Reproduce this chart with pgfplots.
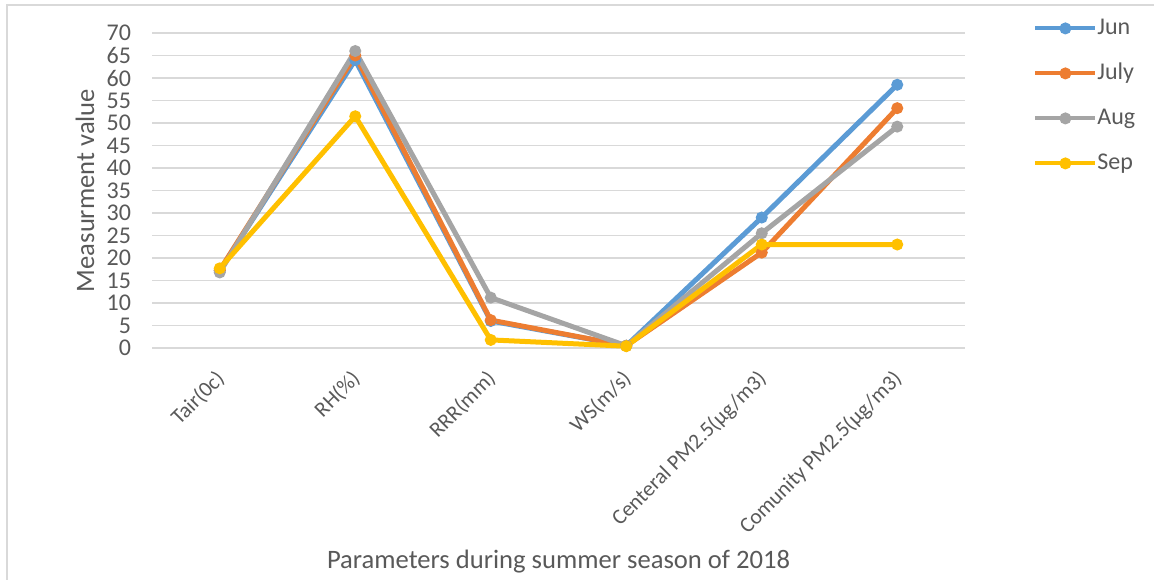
\documentclass[border=0pt]{standalone}
\usepackage{fontspec}
\setmainfont{Carlito}
\usepackage{pgfplots}
\pgfplotsset{compat=1.18}
\definecolor{cJun}{HTML}{5B9BD5}
\definecolor{cJul}{HTML}{ED7D31}
\definecolor{cAug}{HTML}{A5A5A5}
\definecolor{cSep}{HTML}{FFC000}
\definecolor{gridc}{HTML}{D9D9D9}
\definecolor{labc}{HTML}{595959}
\begin{document}
\begin{tikzpicture}
\useasboundingbox (-76pt,-115.5pt) rectangle (501pt,174pt);
% chart area border (cropped at right and bottom)
\draw[color=gridc, line width=1pt] (-72.5pt,-116pt) -- (-72.5pt,171.5pt) -- (502pt,171.5pt);
\begin{axis}[
    at={(0pt,0pt)}, anchor=south west,
    scale only axis, width=406.5pt, height=157.5pt,
    xmin=-0.5, xmax=5.5, ymin=0, ymax=70,
    ytick={0,5,...,70}, xtick={0,...,5},
    xticklabels={Tair(0c),RH(\%),RRR(mm),WS(m/s),Centeral PM2.5(µg/m3),Comunity PM2.5(µg/m3)},
    axis line style={draw=none}, major tick length=0pt,
    ymajorgrids, grid style={color=gridc, line width=0.75pt},
    tick label style={font=\fontsize{12}{14}\selectfont, color=labc},
    /pgf/number format/assume math mode=true,
    xticklabel style={font=\fontsize{10.8}{13}\selectfont, xshift=3.1pt, yshift=-11.3pt, rotate=45, anchor=east},
    yticklabel style={anchor=east, xshift=-7pt},
    xlabel={Parameters during summer season of 2018},
    ylabel={Measurment value},
    every axis x label/.style={at={(axis description cs:0.5,0)}, anchor=center, yshift=-107pt,
        font=\fontsize{13.3}{15}\selectfont, text=labc},
    every axis y label/.style={at={(axis description cs:0,0.5)}, anchor=center, xshift=-33.5pt, rotate=90,
        font=\fontsize{13.3}{15}\selectfont, text=labc},
    every axis plot/.append style={line width=2.5pt, mark=*, mark size=2.6pt, mark options={line width=0.8pt}},
    legend style={at={(rel axis cs:1,1)}, anchor=north west, xshift=34pt, yshift=8.5pt,
        draw=none, fill=none, inner sep=0pt, row sep=10.5pt,
        font=\fontsize{12}{14}\selectfont, text=labc,
        nodes={inner sep=0pt, text height=9pt, text depth=3pt}},
    legend cell align=left,
    legend image code/.code={\draw[mark repeat=2, mark phase=2, line width=2pt] plot coordinates {(0pt,0pt) (15pt,0pt) (30pt,0pt)};},
    /tikz/every even column/.append style={column sep=2pt},
]
\addplot[color=cJun] coordinates {(0,17.2) (1,64) (2,6) (3,0.5) (4,29) (5,58.5)};
\addlegendentry{Jun}
\addplot[color=cJul] coordinates {(0,17.3) (1,65) (2,6.2) (3,0.5) (4,21.2) (5,53.3)};
\addlegendentry{July}
\addplot[color=cAug] coordinates {(0,16.8) (1,66) (2,11.2) (3,0.5) (4,25.5) (5,49.2)};
\addlegendentry{Aug}
\addplot[color=cSep] coordinates {(0,17.7) (1,51.5) (2,1.8) (3,0.4) (4,23) (5,23)};
\addlegendentry{Sep}
\end{axis}
\end{tikzpicture}
\end{document}
